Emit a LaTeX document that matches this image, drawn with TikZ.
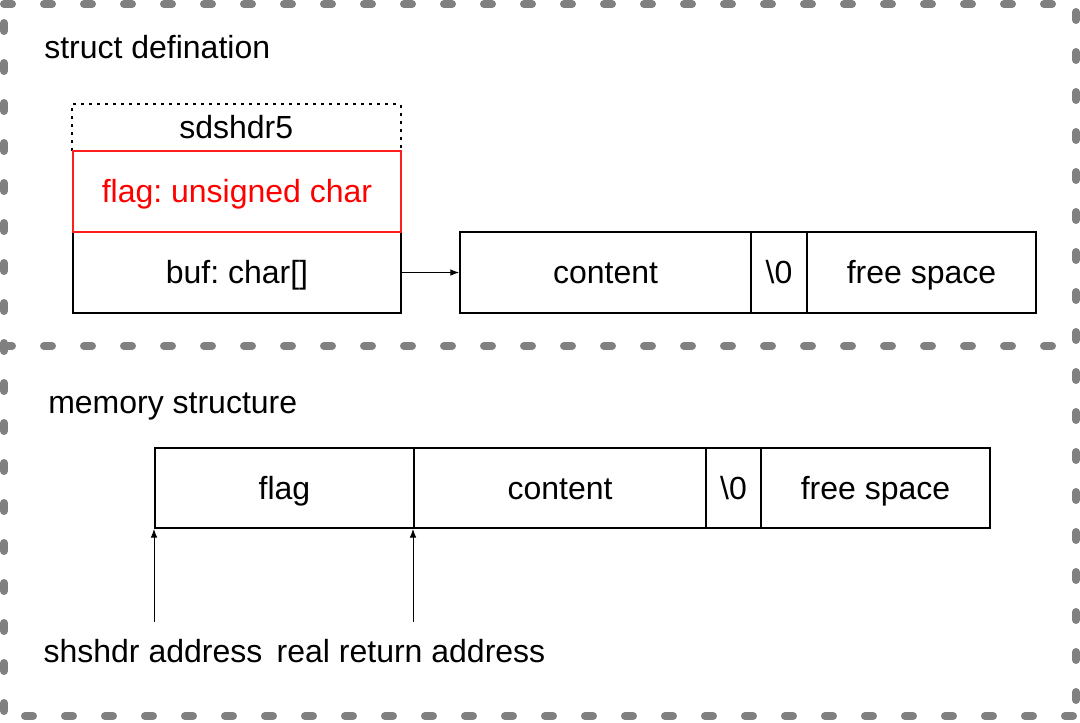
\documentclass[tikz,border=0pt]{standalone}
\usepackage{fontspec}
\setmainfont{Liberation Sans}
\usetikzlibrary{arrows.meta}
\definecolor{bordergray}{RGB}{128,128,128}
\definecolor{boxred}{RGB}{255,30,30}
\frenchspacing
\begin{document}
\frenchspacing
\begin{tikzpicture}[x=0.75pt,y=-0.75pt,
  txt/.style={font=\fontsize{24}{28}\selectfont, text height=21.6pt, text depth=4.8pt, inner sep=0pt},
  cell/.style={draw, line width=1.5pt, inner sep=0pt, anchor=north west, txt},
  sep/.style={draw=bordergray, line width=6pt, line cap=round, dash pattern=on 6pt off 24pt},
  conn/.style={line width=0.75pt, -{Latex[length=6.5pt,width=5pt]}},
  dotbox/.style={line width=1.5pt, dash pattern=on 2pt off 4pt}
]
\useasboundingbox (0,0) rectangle (1080,722);
\fill[white] (0,0) rectangle (1080,722);

% dashed frame
\coordinate (tl) at (4,4);
\coordinate (tr) at (1076,4);
\coordinate (br) at (1076,716);
\coordinate (bl) at (4,716);
\coordinate (ml) at (4,346);
\coordinate (mr) at (1076,346);
\draw[sep, dash phase=0pt] (tl) -- (tr);
\draw[sep, dash phase=24pt] (tr) -- (br);
\draw[sep, dash phase=27.75pt] (br) -- (bl);
\draw[sep, dash phase=26.25pt] (bl) -- (tl);
\draw[sep, dash phase=0pt] (ml) -- (mr);

% section titles
\node[txt, anchor=base west] (title1) at (44,58) {struct defination};
\node[txt, anchor=base west] (title2) at (48,413) {memory structure};

% struct definition
\node[txt, anchor=north west, minimum width=328*0.75pt, minimum height=46*0.75pt] (head) at (72,104) {sdshdr5};
\draw[dotbox] (head.south west) -- (head.north west) -- (head.north east) -- (head.south east);
\node[cell, minimum width=328*0.75pt, minimum height=81*0.75pt] (buf) at (72,231) {buf: char[]};
\node[cell, draw=boxred, text=red, minimum width=328*0.75pt, minimum height=81*0.75pt] (flagf) at (72,150) {flag: unsigned char};

% buffer content
\node[cell, minimum width=291*0.75pt, minimum height=81*0.75pt] (c1) at (459,231) {content};
\node[cell, minimum width=56*0.75pt, minimum height=81*0.75pt] (z1) at (750,231) {\textbackslash 0};
\node[cell, minimum width=229*0.75pt, minimum height=81*0.75pt] (f1) at (806,231) {free space};
\draw[conn] (buf.east) -- (c1.west);

% memory structure
\node[cell, minimum width=259*0.75pt, minimum height=80*0.75pt] (m1) at (154,447) {flag};
\node[cell, minimum width=292*0.75pt, minimum height=80*0.75pt] (m2) at (413,447) {content};
\node[cell, minimum width=55*0.75pt, minimum height=80*0.75pt] (m3) at (705,447) {\textbackslash 0};
\node[cell, minimum width=229*0.75pt, minimum height=80*0.75pt] (m4) at (760,447) {free space};

% address pointers
\node[txt, anchor=base] (a1) at (153,662) {shshdr address};
\node[txt, anchor=base] (a2) at (411,662) {real return address};
\coordinate (a1s) at (154,622);
\coordinate (a2s) at (413,622);
\draw[conn] (a1s) -- (m1.south west);
\draw[conn] (a2s) -- (m2.south west);
\end{tikzpicture}
\end{document}
